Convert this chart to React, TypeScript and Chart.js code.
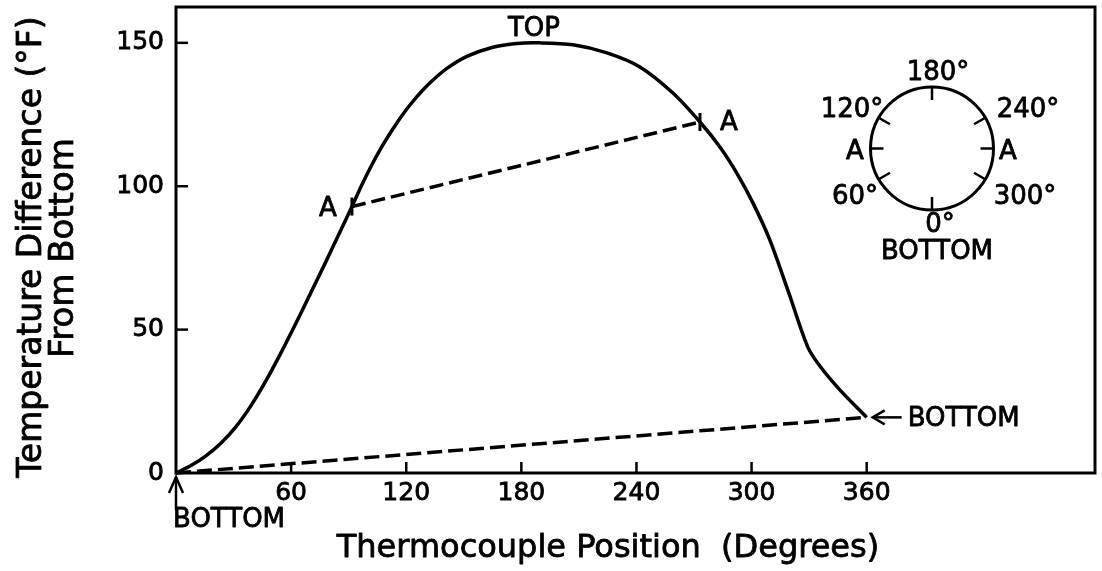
import React, { useEffect, useRef } from 'react';
import { Chart, registerables } from 'chart.js';

Chart.register(...registerables);

const FONT = '"DejaVu Sans", sans-serif';

// Main temperature profile (thermocouple position in degrees, temperature difference in °F)
const curveDeg = [0, 7.8, 15.6, 23.5, 31.3, 39.1, 46.9, 54.7, 62.5, 70.3, 78.2, 86.0, 91.7, 96.9, 102.1, 107.3, 112.6, 117.8, 123.0, 128.2, 133.4, 141.2, 151.6, 164.7, 177.7, 189.7, 206.9, 224.6, 241.8, 259.0, 273.1, 283.5, 292.3, 300.7, 309.5, 319.4, 329.3, 335.6, 346.0, 360];
const curveTemp = [0, 2.6, 6.0, 10.5, 16.2, 23.5, 32.2, 41.9, 52.2, 62.9, 73.8, 84.8, 92.9, 100.5, 107.5, 113.8, 119.5, 124.7, 129.2, 133.2, 136.7, 141.1, 145.3, 148.4, 149.8, 150.0, 149.3, 146.5, 141.6, 132.5, 122.4, 113.7, 104.6, 94.2, 81.3, 62.8, 43.9, 37.3, 29.0, 19.4];

// Dashed chord between the two "A" points
const chordDeg = [91.7, 273.1];
const chordTemp = [92.9, 122.4];

// Dashed chord between the two "BOTTOM" points
const bottomDeg = [0, 360];
const bottomTemp = [0, 19.4];

// Axis ticks
const xTickValues = [0, 60, 120, 180, 240, 300, 360];
const xTickLabelMin = 60;
const xMax = 479;
const yTickValues = [0, 50, 100, 150];
const yMax = 162.5;

// Inset dial tick angles (degrees measured from bottom)
const dialTicks = [0, 60, 90, 120, 180, 240, 270, 300];

const toPts = (xs: number[], ys: number[]) => xs.map((x, i) => ({ x, y: ys[i] }));

const TEXT_STROKE = 0.8;

const decor = {
  id: 'decor',
  afterDraw(chart: any) {
    const { ctx, chartArea: a, scales } = chart;
    const xs = scales.x;
    const ys = scales.y;
    ctx.save();
    ctx.strokeStyle = '#000';
    ctx.fillStyle = '#000';
    ctx.lineCap = 'butt';

    const line = (x1: number, y1: number, x2: number, y2: number) => {
      ctx.beginPath();
      ctx.moveTo(x1, y1);
      ctx.lineTo(x2, y2);
      ctx.stroke();
    };

    // frame
    ctx.lineWidth = 3;
    ctx.strokeRect(a.left, a.top, a.right - a.left, a.bottom - a.top);

    // inward ticks
    ctx.lineWidth = 2.5;
    xs.ticks.forEach((t: any) => {
      if (t.value >= xTickLabelMin) {
        const p = xs.getPixelForValue(t.value);
        line(p, a.bottom, p, a.bottom - 11);
      }
    });
    ys.ticks.forEach((t: any) => {
      if (t.value > 0) {
        const p = ys.getPixelForValue(t.value);
        line(a.left, p, a.left + 12, p);
      }
    });

    const text = (s: string, x: number, y: number, size = 26, align: CanvasTextAlign = 'center') => {
      ctx.font = `${size}px ${FONT}`;
      ctx.textAlign = align;
      ctx.textBaseline = 'middle';
      ctx.fillText(s, x, y);
      ctx.save();
      ctx.lineWidth = TEXT_STROKE;
      ctx.lineJoin = 'round';
      ctx.strokeText(s, x, y);
      ctx.restore();
    };

    // TOP label above peak
    let pi = 0;
    curveTemp.forEach((v, i) => { if (v > curveTemp[pi]) pi = i; });
    const px = xs.getPixelForValue(curveDeg[pi]);
    const py = ys.getPixelForValue(curveTemp[pi]);
    text('TOP', px - 6, py - 14);

    // A labels
    const a1x = xs.getPixelForValue(chordDeg[0]);
    const a1y = ys.getPixelForValue(chordTemp[0]);
    const a2x = xs.getPixelForValue(chordDeg[1]);
    const a2y = ys.getPixelForValue(chordTemp[1]);
    text('A', a1x - 24, a1y + 3);
    text('A', a2x + 29, a2y + 1);

    // BOTTOM (left) with up arrow
    ctx.lineWidth = 2.5;
    const bx = xs.getPixelForValue(0);
    line(bx, a.bottom + 37, bx, a.bottom + 4);
    ctx.beginPath();
    ctx.moveTo(bx - 7, a.bottom + 20);
    ctx.lineTo(bx, a.bottom + 4);
    ctx.lineTo(bx + 7, a.bottom + 20);
    ctx.stroke();
    text('BOTTOM', bx - 3, a.bottom + 47, 26, 'left');

    // BOTTOM (right) with left arrow
    ctx.lineWidth = 2.5;
    const ex = xs.getPixelForValue(bottomDeg[1]);
    const ey = ys.getPixelForValue(bottomTemp[1]);
    line(ex + 6, ey, ex + 35, ey);
    ctx.beginPath();
    ctx.moveTo(ex + 18, ey - 7);
    ctx.lineTo(ex + 6, ey);
    ctx.lineTo(ex + 18, ey + 7);
    ctx.stroke();
    text('BOTTOM', ex + 41, ey + 2, 26, 'left');

    // Inset dial
    const cx = a.right - 163;
    const cy = a.top + 141.5;
    const r = 61.5;
    ctx.lineWidth = 3;
    ctx.beginPath();
    ctx.arc(cx, cy, r, 0, Math.PI * 2);
    ctx.stroke();
    ctx.lineWidth = 2.5;
    dialTicks.forEach((deg) => {
      const th = (deg * Math.PI) / 180;
      const dx = -Math.sin(th);
      const dy = Math.cos(th);
      line(cx + dx * r, cy + dy * r, cx + dx * (r - 13), cy + dy * (r - 13));
    });
    text('180°', cx + 6, cy - 75);
    text('120°', cx - 80, cy - 38.5);
    text('240°', cx + 96, cy - 38.5);
    text('A', cx - 77, cy + 3.5);
    text('A', cx + 76, cy + 3.5);
    text('60°', cx - 77, cy + 48.5);
    text('300°', cx + 93, cy + 48.5);
    text('0°', cx + 8, cy + 76.5);
    text('BOTTOM', cx + 5, cy + 103.5);

    // Axis titles
    ctx.lineWidth = TEXT_STROKE;
    ctx.lineJoin = 'round';
    ctx.font = `32px ${FONT}`;
    ctx.textAlign = 'center';
    ctx.textBaseline = 'alphabetic';
    const xt = 'Thermocouple Position  (Degrees)';
    ctx.fillText(xt, a.left + 432, a.bottom + 84);
    ctx.strokeText(xt, a.left + 432, a.bottom + 84);

    ctx.save();
    ctx.translate(41, a.top + 240);
    ctx.rotate(-Math.PI / 2);
    ctx.font = `33px ${FONT}`;
    ctx.fillText('Temperature Difference (°F)', 0, 0);
    ctx.strokeText('Temperature Difference (°F)', 0, 0);
    ctx.restore();
    ctx.save();
    ctx.translate(73, a.top + 241);
    ctx.rotate(-Math.PI / 2);
    ctx.font = `34px ${FONT}`;
    ctx.fillText('From Bottom', 0, 0);
    ctx.strokeText('From Bottom', 0, 0);
    ctx.restore();

    ctx.restore();
  },
};

export default function App() {
  const ref = useRef<HTMLCanvasElement>(null);

  useEffect(() => {
    const chart = new Chart(ref.current as HTMLCanvasElement, {
      type: 'line',
      data: {
        datasets: [
          {
            data: toPts(curveDeg, curveTemp),
            borderColor: '#000',
            borderWidth: 3.5,
            pointRadius: 0,
            tension: 0.3,
            fill: false,
            clip: false,
          },
          {
            data: toPts(chordDeg, chordTemp),
            borderColor: '#000',
            borderWidth: 3.5,
            borderDash: [14, 6],
            pointStyle: 'line',
            rotation: 90,
            pointRadius: 9,
            pointBorderWidth: 3,
            pointBorderColor: '#000',
            fill: false,
            clip: false,
          },
          {
            data: toPts(bottomDeg, bottomTemp),
            borderColor: '#000',
            borderWidth: 3.5,
            borderDash: [15, 6],
            pointRadius: 0,
            fill: false,
            clip: false,
          },
        ],
      },
      options: {
        responsive: false,
        animation: false,
        devicePixelRatio: 1,
        layout: { autoPadding: false, padding: { left: 0, top: 7, right: 7, bottom: 0 } },
        plugins: { legend: { display: false }, tooltip: { enabled: false }, title: { display: false } },
        scales: {
          x: {
            type: 'linear',
            min: 0,
            max: xMax,
            afterBuildTicks: (s: any) => {
              s.ticks = xTickValues.map((value) => ({ value }));
            },
            afterFit: (s: any) => {
              s.height = 98;
              s.paddingLeft = 0;
              s.paddingRight = 0;
            },
            grid: { display: false, drawTicks: false },
            border: { display: false },
            ticks: {
              autoSkip: false,
              maxRotation: 0,
              padding: 5,
              color: '#000',
              textStrokeColor: '#000',
              textStrokeWidth: TEXT_STROKE,
              font: { family: FONT, size: 25 },
              callback: (v: any) => (v >= xTickLabelMin ? String(v) : ''),
            },
          },
          y: {
            type: 'linear',
            min: 0,
            max: yMax,
            afterBuildTicks: (s: any) => {
              s.ticks = yTickValues.map((value) => ({ value }));
            },
            afterFit: (s: any) => {
              s.width = 176;
              s.paddingTop = 0;
              s.paddingBottom = 0;
            },
            grid: { display: false, drawTicks: false },
            border: { display: false },
            ticks: {
              autoSkip: false,
              padding: 12,
              color: '#000',
              textStrokeColor: '#000',
              textStrokeWidth: TEXT_STROKE,
              font: { family: FONT, size: 25 },
              callback: (v: any) => String(v),
            },
          },
        },
      },
      plugins: [decor],
    });
    return () => chart.destroy();
  }, []);

  return (
    <div style={{ position: 'fixed', left: 0, top: 0, width: 1102, height: 571, background: '#fff' }}>
      <canvas ref={ref} width={1102} height={571} style={{ display: 'block' }} />
    </div>
  );
}
